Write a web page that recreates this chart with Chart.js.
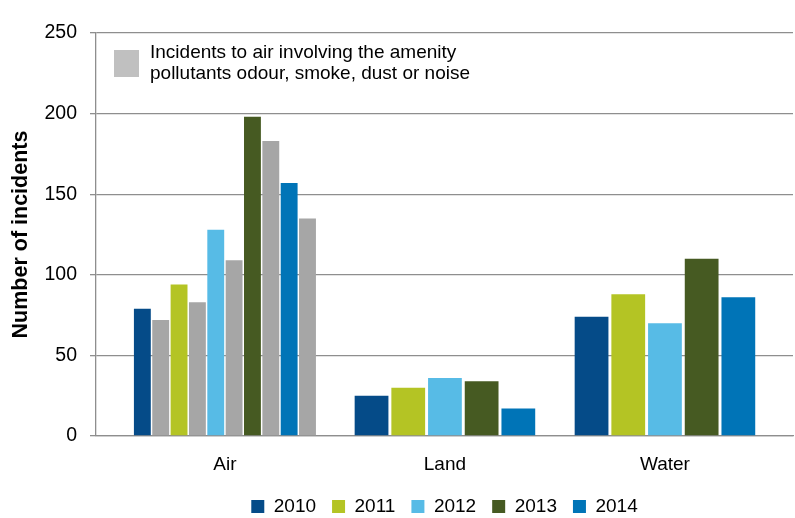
<!DOCTYPE html>
<html>
<head>
<meta charset="utf-8">
<script src="https://cdn.jsdelivr.net/npm/chart.js@4/dist/chart.umd.min.js"></script>
<style>
  html, body { margin: 0; padding: 0; background: #ffffff; }
  #wrap { width: 795px; height: 518px; position: relative; }
</style>
</head>
<body>
<div id="wrap"><canvas id="c" width="795" height="518"></canvas></div>
<script>
// ---- data ----
const categories = ['Air', 'Land', 'Water'];
const years = ['2010', '2011', '2012', '2013', '2014'];
const values2010 = [79, 25, 74];
const values2011 = [94, 30, 88];
const values2012 = [128, 36, 70];
const values2013 = [198, 34, 110];
const values2014 = [157, 17, 86];
// amenity-pollutant air incidents, one per year (Air only)
const amenityAir = [72, 83, 109, 183, 135];
const amenityLines = ['Incidents to air involving the amenity', 'pollutants odour, smoke, dust or noise'];
const yTicks = [0, 50, 100, 150, 200, 250];
const axisTitle = 'Number of incidents';

// ---- styles ----
const yearColors = ['#054B88', '#B4C424', '#57BBE6', '#465A22', '#0074B7'];
const amenityColor = '#A6A6A6';
const amenityKeyColor = '#C0C0C0';
const gridColor = '#8E8E8E';
const FONT = "'Liberation Sans', Arial, sans-serif";

const yearValues = [values2010, values2011, values2012, values2013, values2014];
const datasets = [];
years.forEach((y, i) => {
  datasets.push({
    label: y,
    data: yearValues[i],
    backgroundColor: yearColors[i],
    isYear: true
  });
  datasets.push({
    label: amenityLines.join(' '),
    data: [amenityAir[i], null, null],
    backgroundColor: amenityColor,
    isYear: false
  });
});

const amenityKey = {
  id: 'amenityKey',
  afterDraw(chart) {
    const { ctx, chartArea } = chart;
    ctx.save();
    ctx.fillStyle = amenityKeyColor;
    ctx.fillRect(chartArea.left + 18, chartArea.top + 17, 25, 27);
    ctx.fillStyle = '#000000';
    ctx.font = '19px ' + FONT;
    ctx.textBaseline = 'alphabetic';
    ctx.textAlign = 'left';
    amenityLines.forEach((line, i) => {
      ctx.fillText(line, chartArea.left + 54, chartArea.top + 25 + i * 21.3);
    });
    ctx.restore();
  }
};

new Chart(document.getElementById('c'), {
  type: 'bar',
  data: { labels: categories, datasets },
  plugins: [amenityKey],
  options: {
    responsive: false,
    animation: false,
    devicePixelRatio: 1,
    layout: { padding: { left: 0, right: 2, top: 33, bottom: -8 } },
    datasets: {
      bar: {
        skipNull: true,
        categoryPercentage: 0.834,
        barPercentage: 0.92,
        borderWidth: 0
      }
    },
    plugins: {
      legend: {
        position: 'bottom',
        fullSize: false,
        labels: {
          filter: (item, data) => data.datasets[item.datasetIndex].isYear,
          boxWidth: 13,
          boxHeight: 13,
          padding: 16,
          color: '#000000',
          font: { family: FONT, size: 19 }
        }
      },
      tooltip: { enabled: false }
    },
    scales: {
      x: {
        offset: true,
        grid: { display: false, drawTicks: false },
        border: { display: true, color: gridColor, width: 1.3 },
        ticks: { color: '#000000', font: { family: FONT, size: 19 }, padding: 17 },
        afterFit(axis) { axis.height = 45; },
        afterBuildTicks(axis) {
          // place category centres as in the original (wider outer margins)
          axis._startValue = -0.586;
          axis._valueRange = 3.168;
        }
      },
      y: {
        min: 0,
        max: 250,
        afterBuildTicks(axis) { axis.ticks = yTicks.map(v => ({ value: v })); },
        grid: { color: gridColor, lineWidth: 1.3, tickLength: 6, drawTicks: true },
        border: { display: true, color: gridColor, width: 1.3 },
        ticks: { color: '#000000', font: { family: FONT, size: 19.5 }, padding: 13 },
        title: {
          display: true,
          text: axisTitle,
          color: '#000000',
          font: { family: FONT, size: 21.5, weight: 'bold' },
          padding: { top: 8, bottom: 0 }
        },
        afterFit(axis) { axis.width = 96; }
      }
    }
  }
});
</script>
</body>
</html>
